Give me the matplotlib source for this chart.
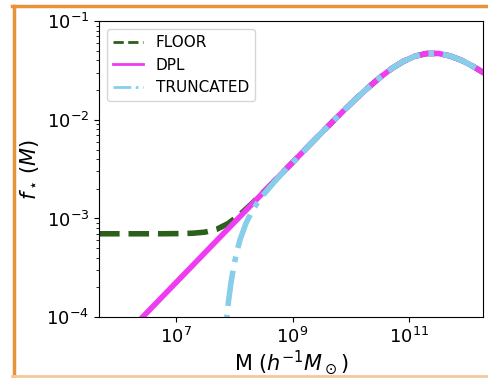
import numpy as np
import matplotlib
matplotlib.use("Agg")
import matplotlib.pyplot as plt
from matplotlib.lines import Line2D
from matplotlib.ticker import FixedLocator, NullLocator

plt.rcParams['font.family'] = ['DejaVu Sans']
plt.rcParams['font.size'] = 12

# log10 of halo mass (h^-1 Msun) and log10 f_star
log_m = [5.68, 5.9, 6.1, 6.3, 6.5, 6.7, 6.9, 7.1, 7.3, 7.5, 7.7, 7.9, 8.1,
         8.3, 8.5, 8.7, 8.9, 9.1, 9.3, 9.5, 9.7, 9.9, 10.1, 10.3, 10.5,
         10.7, 10.9, 11.1, 11.3, 11.5, 11.7, 11.9, 12.1, 12.27]

log_dpl = [-4.455, -4.321, -4.199, -4.077, -3.955, -3.833, -3.711, -3.589,
           -3.467, -3.345, -3.223, -3.101, -2.979, -2.857, -2.735, -2.614,
           -2.492, -2.371, -2.250, -2.130, -2.011, -1.894, -1.780, -1.672,
           -1.571, -1.481, -1.408, -1.355, -1.328, -1.327, -1.352, -1.397,
           -1.459, -1.520]

log_floor = [-3.155, -3.155, -3.155, -3.155, -3.155, -3.155, -3.154, -3.153,
             -3.149, -3.138, -3.109, -3.049, -2.959, -2.850, -2.733, -2.613,
             -2.492, -2.371, -2.250, -2.130, -2.011, -1.894, -1.780, -1.672,
             -1.571, -1.481, -1.408, -1.355, -1.328, -1.327, -1.352, -1.397,
             -1.459, -1.520]

log_m_trunc = [7.8, 7.85, 7.9, 7.95, 8.0, 8.05, 8.1, 8.2, 8.3, 8.4, 8.5,
               8.7, 8.9, 9.1, 9.3, 9.5, 9.7, 9.9, 10.1, 10.3, 10.5, 10.7,
               10.9, 11.1, 11.3, 11.5, 11.7, 11.9, 12.1, 12.27]
log_trunc = [-4.481, -4.120, -3.843, -3.626, -3.457, -3.322, -3.213, -3.050,
             -2.931, -2.838, -2.759, -2.621, -2.494, -2.372, -2.250, -2.130,
             -2.011, -1.894, -1.780, -1.672, -1.571, -1.481, -1.408, -1.355,
             -1.328, -1.327, -1.352, -1.397, -1.459, -1.520]

x_ticks = [1e7, 1e9, 1e11]

m = 10.0 ** np.array(log_m)
m_tr = 10.0 ** np.array(log_m_trunc)

fig = plt.figure(figsize=(4.88, 3.78), dpi=100)
ax = fig.add_axes([0.203, 0.161, 0.787, 0.783])

ax.plot(m, 10.0 ** np.array(log_floor), color='#2b5f1c', ls='--', lw=4, label='FLOOR')
ax.plot(m, 10.0 ** np.array(log_dpl), color='#f03cf0', ls='-', lw=4, label='DPL')
ax.plot(m_tr, 10.0 ** np.array(log_trunc), color='skyblue', ls='-.', lw=4, label='TRUNCATED')

ax.set_xscale('log')
ax.set_yscale('log')
ax.set_xlim(10 ** 5.68, 10 ** 12.27)
ax.set_ylim(1e-4, 1e-1)
ax.xaxis.set_major_locator(FixedLocator(x_ticks))
ax.xaxis.set_minor_locator(NullLocator())
ax.tick_params(axis='both', which='major', labelsize=13)
ax.set_xlabel(r'M ($h^{-1}M_\odot$)', fontsize=15, labelpad=1)
ax.set_ylabel(r'$f_\star\,(M)$', fontsize=15)

leg = ax.legend(loc='upper left', fontsize=11)
for h in leg.get_lines():
    h.set_linewidth(2)

# orange frame from the screenshot
fig.add_artist(Line2D([0.025, 1.0], [0.983, 0.983], color='#e8923a', lw=2.5))
fig.add_artist(Line2D([0.0277, 0.0277], [0.0, 0.983], color='#e8923a', lw=2.5))
fig.add_artist(Line2D([0.025, 1.0], [0.004, 0.004], color='#f5c89c', lw=2))

fig.savefig('out.png', dpi=100)
